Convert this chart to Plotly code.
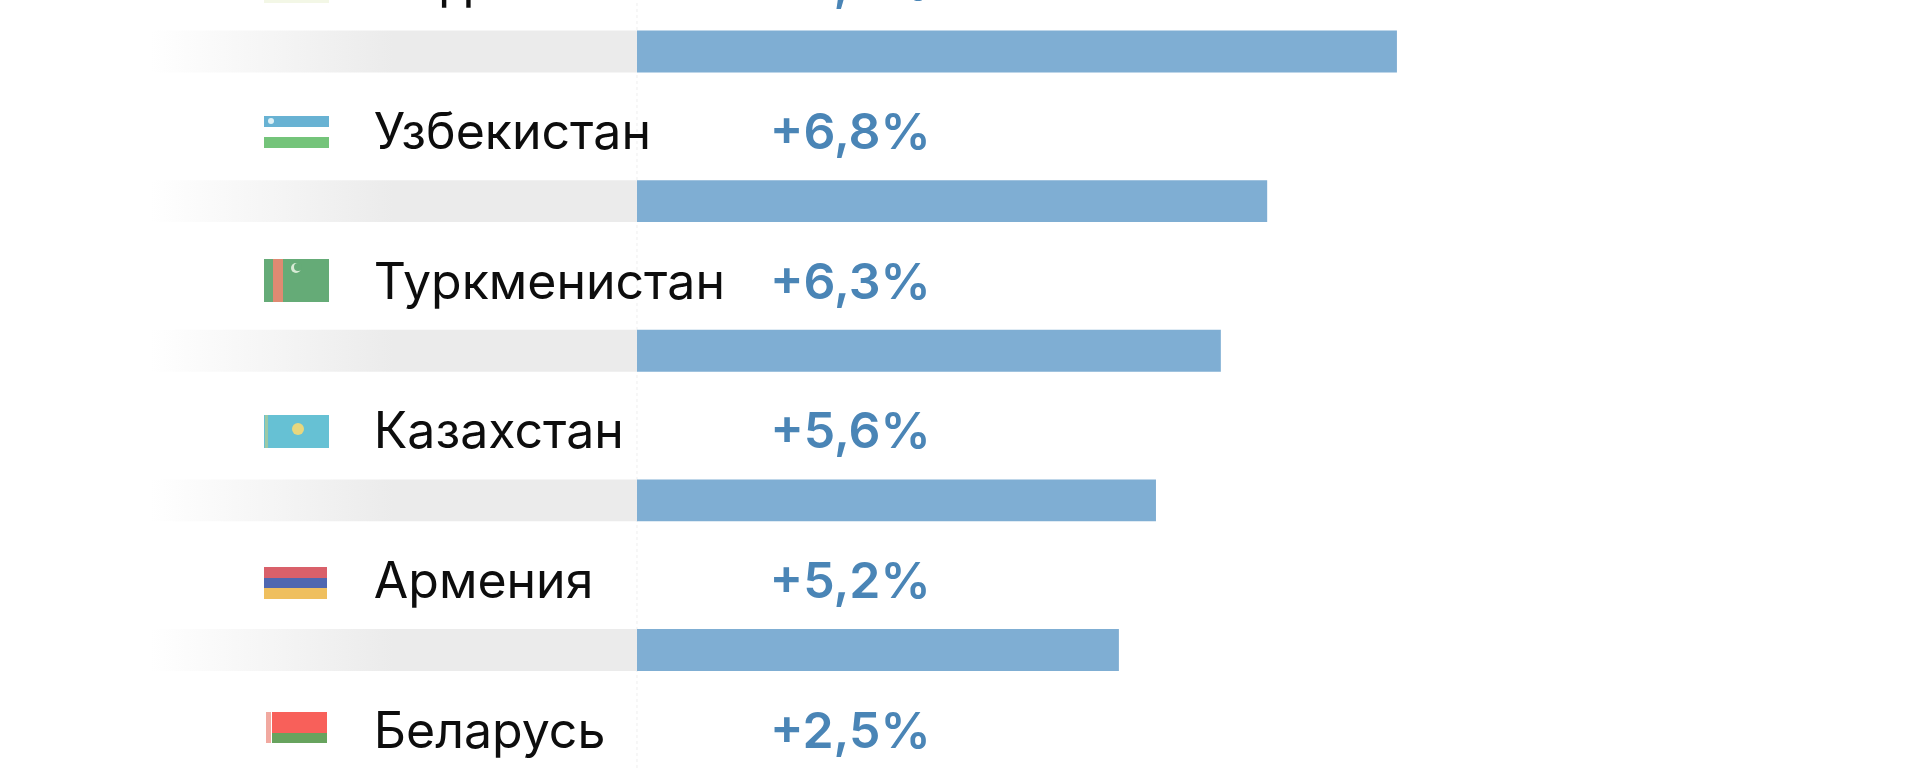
import plotly.graph_objects as go

countries = ['Индия', 'Узбекистан', 'Туркменистан', 'Казахстан', 'Армения', 'Беларусь']
growth = [8.2, 6.8, 6.3, 5.6, 5.2, 2.5]
growth_labels = ['+8,2%', '+6,8%', '+6,3%', '+5,6%', '+5,2%', '+2,5%']
rows = list(range(len(countries)))

W, H = 1920, 768
BAR_COLOR = '#7faed3'
VALUE_COLOR = '#4a85b6'
TRACK_START = -5.25
FONT = 'Inter'

fig = go.Figure()

# grey tracks fading out to the left of zero
for r in rows:
    fig.add_trace(go.Scatter(x=[TRACK_START, 0, 0, TRACK_START, TRACK_START],
                             y=[r - 0.14, r - 0.14, r + 0.14, r + 0.14, r - 0.14],
                             mode='lines', line=dict(width=0), fill='toself',
                             fillgradient=dict(type='horizontal',
                                               colorscale=[[0, '#ffffff'], [0.2, '#f7f7f7'],
                                                           [0.5, '#ebebeb'], [1, '#ebebeb']]),
                             hoverinfo='skip', showlegend=False))

fig.add_trace(go.Bar(x=growth, y=rows, orientation='h', width=0.28,
                     marker=dict(color=BAR_COLOR, line=dict(width=0)), showlegend=False))

# country name and value sit above each bar
label_y = [r - 0.43 for r in rows]
fig.add_trace(go.Scatter(x=[-2.84] * len(rows), y=label_y, mode='text', text=countries,
                         textposition='middle right',
                         textfont=dict(family=FONT, size=50, color='#0d0d0d'), showlegend=False))
fig.add_trace(go.Scatter(x=[3.17] * len(rows), y=label_y, mode='text', text=growth_labels,
                         textposition='middle left',
                         textfont=dict(family=FONT, size=50, color=VALUE_COLOR, weight=600),
                         showlegend=False))


def px_rect(x0, y0, x1, y1, color):
    return dict(type='rect', xref='paper', yref='paper', x0=x0 / W, x1=x1 / W,
                y0=1 - y0 / H, y1=1 - y1 / H, fillcolor=color, line=dict(width=0), layer='above')


def px_circle(cx, cy, r, color):
    return dict(type='circle', xref='paper', yref='paper', x0=(cx - r) / W, x1=(cx + r) / W,
                y0=1 - (cy - r) / H, y1=1 - (cy + r) / H, fillcolor=color, line=dict(width=0), layer='above')


flags = [
    # top flag, only its lower edge is in frame
    px_rect(264, 0, 329, 3, '#f3f7e6'),
    # Uzbekistan
    px_rect(264, 116, 329, 127, '#68b2d3'),
    px_rect(264, 137, 329, 148, '#74c47a'),
    px_circle(271, 121, 3, '#dff1f6'),
    # Turkmenistan
    px_rect(264, 259, 329, 302, '#65ab77'),
    px_rect(273, 259, 283, 302, '#df8a72'),
    px_circle(296, 268, 5, '#d8ebd6'),
    px_circle(298, 267, 4, '#65ab77'),
    # Kazakhstan
    px_rect(264, 415, 329, 448, '#66c1d4'),
    px_rect(265, 415, 268, 448, '#9cc9a6'),
    px_circle(298, 429, 6, '#e8d77e'),
    # Armenia
    px_rect(264, 567, 327, 578, '#d9606a'),
    px_rect(264, 578, 327, 588, '#4f67b0'),
    px_rect(264, 588, 327, 599, '#efbf5e'),
    # Belarus
    px_rect(272, 712, 327, 733, '#f8605a'),
    px_rect(272, 733, 327, 743, '#67a35e'),
    px_rect(266, 712, 271, 743, '#f1a9a0'),
]

fig.add_vline(x=0, line=dict(color='#efefef', width=1, dash='dot'), layer='below')

fig.update_layout(
    width=W, height=H,
    margin=dict(l=0, r=0, t=0, b=0),
    paper_bgcolor='white', plot_bgcolor='white',
    shapes=list(fig.layout.shapes) + flags,
    xaxis=dict(range=[-6.873, 13.844], visible=False, fixedrange=True),
    yaxis=dict(range=[4.789, -0.344], visible=False, fixedrange=True),
    showlegend=False,
)

fig.write_html('out.html', config=dict(displayModeBar=False),
               post_script="document.body.style.margin='0';document.body.style.overflow='hidden';")
